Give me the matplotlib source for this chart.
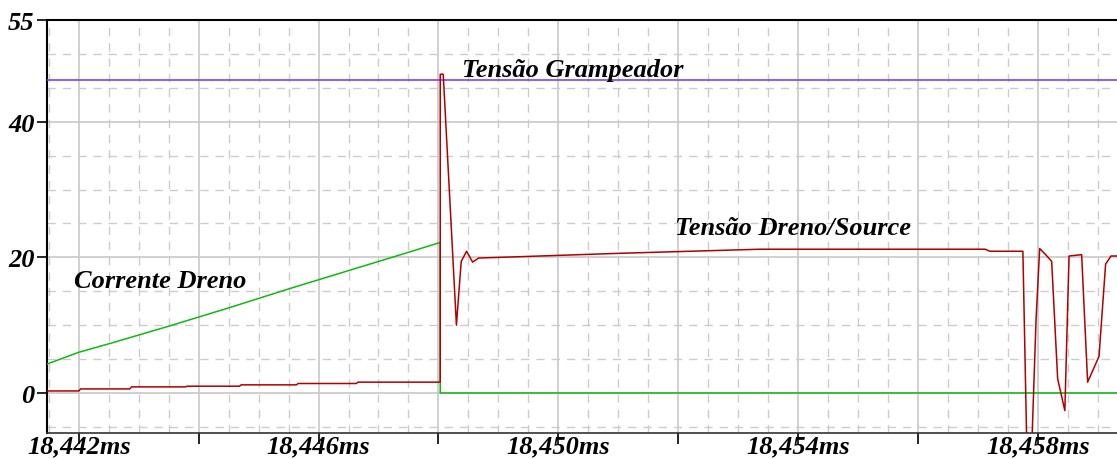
import matplotlib
matplotlib.use('Agg')
import matplotlib.pyplot as plt
from matplotlib.ticker import MultipleLocator, FuncFormatter

# tempo em ms
t_gramp = [18.44147, 18.45932]
v_gramp = [46.2, 46.2]

t_corrente = [18.44148, 18.44200, 18.44252, 18.44352, 18.44452, 18.44552,
              18.44652, 18.44752, 18.44803, 18.44803, 18.45932]
i_corrente = [4.3, 6.0, 7.3, 9.9, 12.6, 15.4, 18.1, 20.8, 22.2, 0.0, 0.0]

t_vds = [18.44148, 18.44200, 18.44203, 18.44285, 18.44288, 18.44378, 18.44381,
         18.44468, 18.44471, 18.44563, 18.44566, 18.44663, 18.44666, 18.44803,
         18.44803, 18.44808, 18.44830, 18.44838, 18.44847, 18.44857, 18.44867,
         18.44903, 18.45003, 18.45103, 18.45220, 18.45337, 18.45712, 18.45720,
         18.45775, 18.45782, 18.45789, 18.45797, 18.45803, 18.45813, 18.45823,
         18.45833, 18.45845, 18.45852, 18.45873, 18.45883, 18.45902, 18.45913,
         18.45922, 18.45932]
v_vds = [0.3, 0.3, 0.6, 0.6, 0.9, 0.9, 1.0, 1.0, 1.2, 1.2, 1.4, 1.4, 1.6, 1.6,
         47.0, 47.0, 10.0, 19.4, 20.9, 19.3, 19.9, 20.0, 20.3, 20.6, 20.9, 21.2,
         21.2, 20.9, 20.9, -10.0, -10.0, 10.9, 21.3, 20.4, 19.4, 2.1, -2.6, 20.2,
         20.4, 1.6, 5.4, 19.0, 20.2, 20.2]

fonte = {'family': 'Liberation Serif', 'weight': 'bold', 'style': 'italic', 'size': 19}

fig = plt.figure(figsize=(11.17, 4.6), dpi=100)
ax = fig.add_axes([47/1117, 26/460, 1 - 47/1117, 413/460])

ax.plot(t_gramp, v_gramp, color='#8040ff', lw=1.2, zorder=3)
ax.plot(t_corrente, i_corrente, color='#10b810', lw=1.1, zorder=3)
ax.plot(t_vds, v_vds, color='#b00000', lw=1.1, zorder=4)

ax.set_xlim(18.44147, 18.45932)
ax.set_ylim(-5.9, 55)

# grade
ax.xaxis.set_major_locator(MultipleLocator(0.002))
ax.xaxis.set_minor_locator(MultipleLocator(0.0005))
ax.set_yticks([0, 20, 40, 55])
ax.yaxis.set_minor_locator(MultipleLocator(5))
ax.grid(which='major', color='#c8c8c8', lw=1.2)
ax.grid(which='minor', color='#cccccc', lw=1.0, linestyle=(0, (6, 5)))
ax.set_axisbelow(True)


def rotulo_x(v, pos):
    us = int(round(v * 1000))
    if (us - 18442) % 4 != 0:
        return ''
    return ('%.3fms' % v).replace('.', ',')


ax.xaxis.set_major_formatter(FuncFormatter(rotulo_x))
ax.tick_params(which='minor', length=0)
ax.tick_params(which='major', direction='out', length=7, width=1.2, pad=2)
ax.tick_params(axis='x', which='major', length=8, pad=-7)
for lab in ax.get_xticklabels() + ax.get_yticklabels():
    lab.set_fontfamily('Liberation Serif')
    lab.set_fontweight('bold')
    lab.set_fontstyle('italic')
    lab.set_fontsize(19)

ax.spines['right'].set_visible(False)
ax.spines['top'].set_color('black')
ax.spines['top'].set_linewidth(1.5)
ax.spines['left'].set_linewidth(1.5)
ax.spines['bottom'].set_linewidth(1.2)
ax.spines['bottom'].set_color('#333333')

ax.text(18.44840, 46.8, 'Tensão Grampeador', fontdict=fonte, va='baseline')
ax.text(18.45195, 23.4, 'Tensão Dreno/Source', fontdict=fonte, va='baseline')
ax.text(18.44192, 15.6, 'Corrente Dreno', fontdict=fonte, va='baseline')

plt.savefig('out.png', dpi=100)
